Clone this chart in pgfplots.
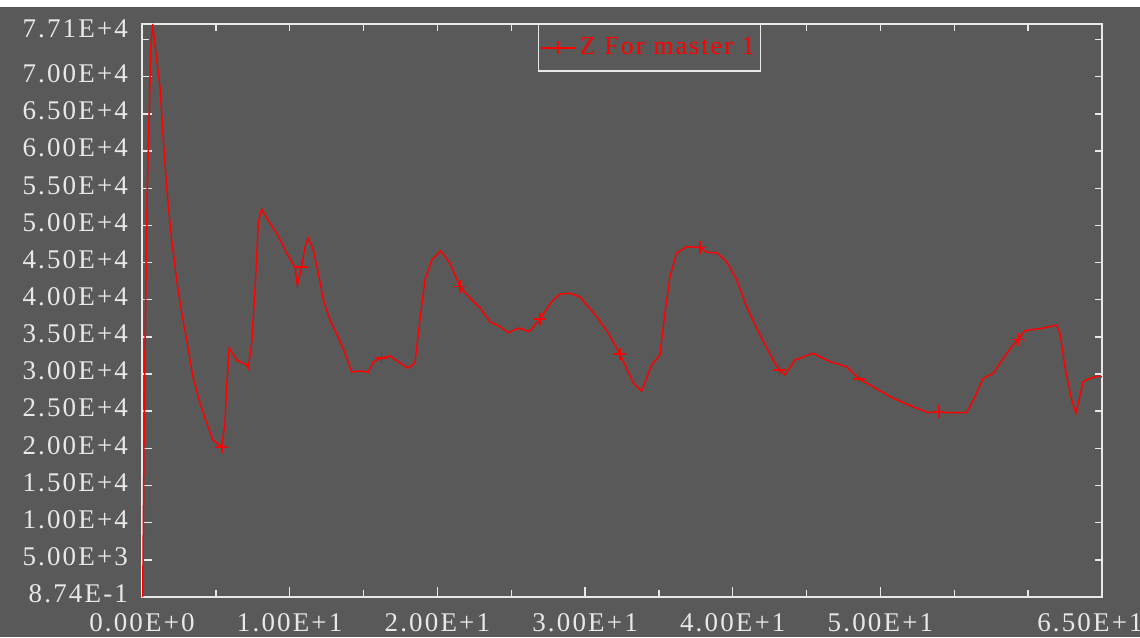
\documentclass[border=0pt]{standalone}
\usepackage{pgfplots}
\pgfplotsset{compat=1.18}
\usepackage{fontspec}
\setmainfont[LetterSpace=8]{Liberation Serif}
\definecolor{panel}{RGB}{89,89,89}
\definecolor{frame}{RGB}{232,232,232}
\begin{document}
\begin{tikzpicture}
\useasboundingbox (-71pt,-20pt) rectangle (499pt,298.5pt);
\fill[panel] (-71pt,-20pt) rectangle (499pt,295pt);
% ticks on top and right are shorter: a bare overlay axis draws them
\begin{axis}[
  scale only axis, width=480pt, height=286.5pt,
  xmin=0, xmax=65, ymin=0.874, ymax=77100,
  scaled ticks=false,
  axis line style={draw=none},
  tick style={frame, line width=0.7pt},
  tick align=inside,
  xtick pos=right, ytick pos=right,
  major tick length=3.5pt, minor tick length=3.5pt,
  xtick={0,10,20,30,40,50,65}, minor xtick={5,15,25,35,45,55,60},
  ytick={5000,10000,15000,20000,25000,30000,35000,40000,45000,50000,55000,60000,65000,70000},
  minor ytick={75000},
  xticklabels={}, yticklabels={},
]
\end{axis}
\begin{axis}[
  scale only axis, width=480pt, height=286.5pt,
  xmin=0, xmax=65, ymin=0.874, ymax=77100,
  scaled ticks=false,
  axis line style={frame, line width=0.7pt},
  tick style={frame, line width=0.7pt},
  tick align=inside,
  xtick pos=left, ytick pos=left,
  major tick length=5.25pt, minor tick length=3.5pt,
  xtick={0,10,20,30,40,50},
  xticklabels={0.00E+0,1.00E+1,2.00E+1,3.00E+1,4.00E+1,5.00E+1},
  minor xtick={5,15,25,35,45,55,60},
  extra x ticks={65},
  extra x tick labels={6.50E+1},
  extra x tick style={xticklabel style={xshift=-6pt}},
  ytick={0.874,5000,10000,15000,20000,25000,30000,35000,40000,45000,50000,55000,60000,65000,70000},
  yticklabels={8.74E-1,5.00E+3,1.00E+4,1.50E+4,2.00E+4,2.50E+4,3.00E+4,3.50E+4,4.00E+4,4.50E+4,5.00E+4,5.50E+4,6.00E+4,6.50E+4,7.00E+4},
  minor ytick={75000},
  extra y ticks={77100},
  extra y tick labels={7.71E+4},
  extra y tick style={yticklabel style={yshift=-4pt}},
  ticklabel style={text=frame, font=\fontsize{13.5}{15}\selectfont},
  yticklabel style={xshift=-3.5pt, yshift=1.5pt},
  xticklabel style={yshift=-4.5pt},
  legend style={at={(0.5286,1)}, anchor=north, fill=panel, draw=frame,
    line width=0.7pt, text=red, font=\fontsize{13}{15}\selectfont,
    inner xsep=1pt, inner ysep=4.5pt},
  legend cell align=left,
]
\addlegendimage{red, line width=0.75pt, mark=+, mark size=3.2pt}
\addlegendentry{Z For master 1}
% Z response curve
\addplot[red, line width=0.75pt, forget plot] coordinates {
(0.05,1) (0.14,21528) (0.20,32830) (0.36,55166) (0.61,74272) (0.72,77100)
(0.88,74272) (1.22,68621) (1.49,60144) (1.69,54762) (2.01,48034) (2.35,42652)
(2.69,38212) (3.03,34579) (3.45,29601) (3.93,26103) (4.38,23412) (4.81,21124)
(5.40,20183) (5.62,23412) (5.73,28256) (5.91,33503) (6.41,31888) (7.09,31216)
(7.20,30812) (7.43,34176) (7.65,41307) (7.77,45747) (7.87,50322) (8.10,52205)
(8.53,50725) (9.12,48976) (9.80,46285) (10.36,44402) (10.52,41980) (10.81,44402)
(11.04,47093) (11.26,48303) (11.60,46689) (11.94,43594) (12.28,39961) (12.73,37270)
(13.29,34983) (13.75,32830) (14.20,30274) (14.76,30408) (15.32,30274) (15.66,31619)
(16.23,32157) (16.79,32427) (17.47,31485) (18.03,30812) (18.48,31485) (18.82,37270)
(19.16,42652) (19.62,45343) (20.22,46595) (20.85,44940) (21.53,41751) (22.21,40230)
(22.89,38885) (23.56,37042) (24.24,36369) (24.80,35562) (25.48,36194) (26.22,35696)
(26.95,37405) (27.74,39733) (28.30,40769) (28.98,40863) (29.66,40365) (30.79,37714)
(31.57,35521) (32.36,32696) (33.27,28794) (33.83,27717) (34.51,31216) (35.07,32561)
(35.41,38212) (35.75,43097) (36.20,46285) (36.88,47133) (37.78,47052) (38.24,46379)
(38.91,46326) (39.59,45115) (40.27,42652) (40.94,39060) (41.84,35252) (42.74,31888)
(43.15,30543) (43.53,29870) (44.21,31888) (45.45,32790) (46.58,31660) (47.71,30987)
(48.57,29332) (49.29,28525) (50.87,26735) (52.22,25605) (53.24,24798) (53.96,24932)
(54.49,24798) (55.84,24798) (56.40,26950) (56.96,29426) (57.64,30099) (58.32,32117)
(58.89,33678) (59.33,34674) (59.79,35831) (60.92,36154) (61.93,36598) (62.16,35481)
(62.49,30987) (62.95,26506) (63.24,24798) (63.73,28969) (64.19,29426) (64.75,29736)
(65.00,29601)
};
% sample markers along the curve
\addplot[red, only marks, mark=+, mark size=3.2pt, line width=0.75pt, forget plot] coordinates {
(5.40,20183) (10.81,44402) (16.23,32157) (21.53,41751) (26.95,37405) (32.36,32696)
(37.78,47052) (43.15,30543) (48.57,29332) (53.96,24932) (59.33,34674)
};
\end{axis}
\end{tikzpicture}
\end{document}
